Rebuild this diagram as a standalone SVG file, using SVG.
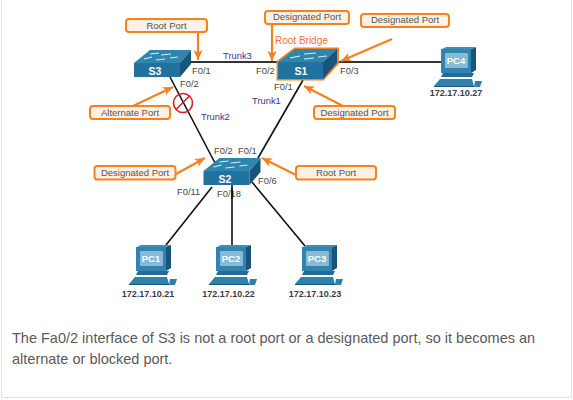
<svg xmlns="http://www.w3.org/2000/svg" width="573" height="400" viewBox="0 0 573 400">
<style>
text{font-family:"Liberation Sans",Arial,sans-serif}
.link{stroke:#111;stroke-width:1.6;fill:none}
.link2{stroke:#333;stroke-width:1.8;fill:none}
.box{fill:#fdf0e4;stroke:#f5821f;stroke-width:2}
.lab{font-size:9.5px;fill:#555;text-anchor:middle}
.port{font-size:9.4px;fill:#4a4a4a}
.trunk{font-size:9.4px;fill:#47308f}
.ip{font-size:9px;font-weight:bold;fill:#3a3a48;text-anchor:middle}
.sw{font-size:10.5px;font-weight:bold;fill:#fff;text-anchor:middle}
.pcn{font-size:9.5px;font-weight:bold;fill:#fff;text-anchor:middle}
.arrow{stroke:#f5821f;stroke-width:2.2;fill:none;marker-end:url(#ah)}
.front{fill:#22719f}.top{fill:#2f86ad}.side{fill:#17557c}
.body{font-size:14.5px;fill:#5a5a5a}
</style>
<defs>
<marker id="ah" markerUnits="userSpaceOnUse" markerWidth="12" markerHeight="10" refX="10" refY="4.5" orient="auto">
<path d="M0 0L10 4.5L0 9L2.5 4.5Z" fill="#f5821f"/>
</marker>
<g id="swt">
<path class="top" d="M0 13L16 0H57L46 13Z"/>
<path class="side" d="M46 13L57 0V14L46 27Z"/>
<rect class="front" x="0" y="13" width="46" height="14"/>
<path d="M10 9l8-2 M27 5l10-1 M22 10l9-1 M36 8l8-1 M16 4l9-1" stroke="#dbeaf2" stroke-width="1.2" fill="none"/>
</g>
<g id="pc">
<path fill="#17557c" d="M30 2L35 0V23L30 26Z"/>
<path fill="#3a8fb8" d="M1 2L5 0H35L30 2Z"/>
<rect x="0" y="2" width="30" height="24" fill="#3283ae"/>
<rect x="4" y="6" width="23" height="15" rx="1" fill="#86bad6"/>
<path fill="#1f6a96" d="M2 26H33L31 30H0Z"/>
<path fill="#2f80aa" d="M-1 32H31L33 39H-7Z"/>
<path fill="#17557c" d="M-7 39H33V40H-7Z"/>
<path fill="#2f80aa" d="M34 34H41L39 40H33Z"/>
</g>
</defs>
<rect width="573" height="400" fill="#fff"/>
<path d="M1.500 0V397.500H571.500V0" fill="none" stroke="#e2e2e2" stroke-width="1"/>

<g id="connectors">
<path class="link2" d="M190 62H278"/>
<path class="link2" d="M337 62H441"/>
<path class="link" d="M170 77L215 163"/>
<path class="link" d="M303 80L258 158"/>
<path class="link" d="M212 187L166 245"/>
<path class="link" d="M232 185V245"/>
<path class="link" d="M252 182L305 246"/>
</g>

<g id="S3">
<use href="#swt" transform="translate(134 50)"/>
<text class="sw" x="155" y="75">S3</text>
</g>
<g id="S1">
<path d="M278 62L295 49H337.500V63L323 79H278Z" fill="none" stroke="#f58220" stroke-width="3"/>
<path class="top" d="M278 62L295 49H337L323 62Z"/>
<path class="side" d="M323 62L337 49V63L323 79Z"/>
<rect class="front" x="278" y="62" width="45" height="17"/>
<path d="M290 58l10-2 M304 54l12-1 M304 59l10-1 M318 57l9-1" stroke="#dbeaf2" stroke-width="1.2" fill="none"/>
<text class="sw" x="301" y="75">S1</text>
</g>
<g id="S2">
<use href="#swt" transform="translate(203.500 158)"/>
<text class="sw" x="225" y="183">S2</text>
</g>
<g id="PC1"><use href="#pc" transform="translate(136 245)"/><text class="pcn" x="151" y="262">PC1</text><text class="ip" x="148" y="297">172.17.10.21</text></g>
<g id="PC2"><use href="#pc" transform="translate(216 245)"/><text class="pcn" x="231" y="262">PC2</text><text class="ip" x="228.500" y="297">172.17.10.22</text></g>
<g id="PC3"><use href="#pc" transform="translate(302 245)"/><text class="pcn" x="317" y="262">PC3</text><text class="ip" x="315" y="297">172.17.10.23</text></g>
<g id="PC4"><use href="#pc" transform="translate(441 47)"/><text class="pcn" x="456" y="64">PC4</text><text class="ip" x="456" y="96">172.17.10.27</text></g>

<g id="blocked">
<circle cx="183" cy="103" r="9.500" fill="none" stroke="#d8202f" stroke-width="1.6"/>
<path d="M189.500 96L176 109.500" stroke="#d8202f" stroke-width="1.6"/>
</g>

<g id="link-labels">
<text class="trunk" x="223" y="59">Trunk3</text>
<text class="trunk" x="252" y="104">Trunk1</text>
<text class="trunk" x="201" y="120">Trunk2</text>
<text x="275" y="44" font-size="10" fill="#f5703a">Root Bridge</text>
<text class="port" x="192" y="74">F0/1</text>
<text class="port" x="256" y="74">F0/2</text>
<text class="port" x="180" y="87">F0/2</text>
<text class="port" x="274" y="90">F0/1</text>
<text class="port" x="340" y="74">F0/3</text>
<text class="port" x="214" y="154">F0/2</text>
<text class="port" x="238" y="154">F0/1</text>
<text class="port" x="258" y="184">F0/6</text>
<text class="port" x="177" y="195">F0/11</text>
<text class="port" x="217" y="197">F0/18</text>
<path class="link" d="M232 188V199"/>
</g>

<g id="callout-root-s3"><rect class="box" x="126" y="19" width="81" height="13" rx="3"/><text class="lab" x="166.500" y="28.500">Root Port</text><path class="arrow" d="M198 32V60"/></g>
<g id="callout-alt-s3"><rect class="box" x="90" y="106" width="80" height="13" rx="3"/><text class="lab" x="130" y="115.500">Alternate Port</text><path class="arrow" d="M133 106L173 87"/></g>
<g id="callout-des-s1-f02"><rect class="box" x="265" y="11" width="84" height="13" rx="3"/><text class="lab" x="307" y="20">Designated Port</text><path class="arrow" d="M272 24V61"/></g>
<g id="callout-des-s1-f03"><rect class="box" x="361" y="14" width="88" height="13" rx="3"/><text class="lab" x="405" y="23">Designated Port</text><path class="arrow" d="M392 39L341 61"/></g>
<g id="callout-des-s1-f01"><rect class="box" x="314" y="106" width="81" height="13" rx="3"/><text class="lab" x="354.500" y="115.500">Designated Port</text><path class="arrow" d="M343 106L304 86"/></g>
<g id="callout-des-s2"><rect class="box" x="94.500" y="166" width="81" height="13.500" rx="3"/><text class="lab" x="135" y="175.500">Designated Port</text><path class="arrow" d="M176 174L205 158"/></g>
<g id="callout-root-s2"><rect class="box" x="296" y="166" width="80" height="13.500" rx="3"/><text class="lab" x="336" y="175.500">Root Port</text><path class="arrow" d="M296 175L262 158"/></g>

<g id="caption">
<text class="body" x="12" y="342.500">The Fa0/2 interface of S3 is not a root port or a designated port, so it becomes an</text>
<text class="body" x="12" y="363.500">alternate or blocked port.</text>
</g>
</svg>
